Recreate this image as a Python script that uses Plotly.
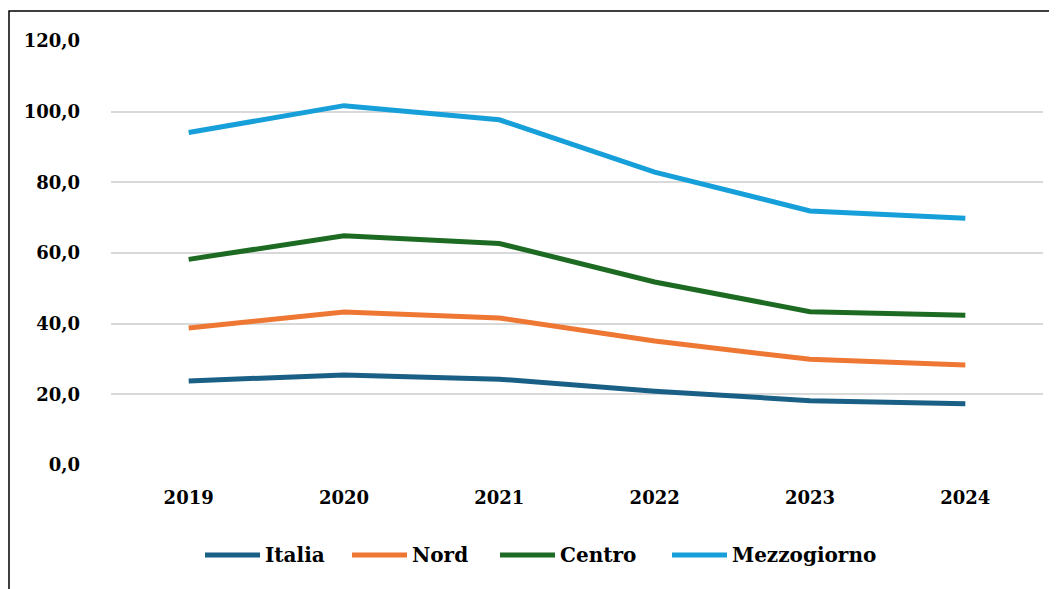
import plotly.graph_objects as go

years = ["2019", "2020", "2021", "2022", "2023", "2024"]
italia = [23.8, 25.5, 24.3, 20.9, 18.2, 17.3]
nord = [38.8, 43.3, 41.6, 35.1, 29.9, 28.3]
centro = [58.2, 64.9, 62.7, 51.8, 43.4, 42.4]
mezzogiorno = [94.1, 101.7, 97.7, 82.9, 71.9, 69.8]

series_names = ["Italia", "Nord", "Centro", "Mezzogiorno"]
series_values = [italia, nord, centro, mezzogiorno]
series_colors = ["#1a5f85", "#ed7733", "#1d6b23", "#169fd8"]

tick_vals = [0, 20, 40, 60, 80, 100, 120]
tick_text = ["0,0", "20,0", "40,0", "60,0", "80,0", "100,0", "120,0"]

font_family = "DejaVu Serif"

W, H = 1049, 581
L, T, B, R = 103, 33, 124, 14
pw = W - L - R
ph = H - T - B


def px(fx):
    return (fx - L) / pw


def py(fy):
    return (T + ph - fy) / ph


fig = go.Figure()
for name, vals, color in zip(series_names, series_values, series_colors):
    fig.add_trace(go.Scatter(
        x=years, y=vals, name=name, mode="lines",
        line=dict(color=color, width=5),
    ))

# legend drawn below the plot (sample line + label for each series)
legend_line_x = [197, 344, 492, 664]
legend_y = 547
shapes = [dict(
    type="rect", xref="paper", yref="paper",
    x0=px(1), x1=1.05, y0=-0.4, y1=py(3),
    line=dict(color="black", width=1.5), fillcolor="rgba(0,0,0,0)",
    layer="below",
)]
annotations = []
for name, color, lx in zip(series_names, series_colors, legend_line_x):
    shapes.append(dict(
        type="line", xref="paper", yref="paper",
        x0=px(lx), x1=px(lx + 55), y0=py(legend_y), y1=py(legend_y),
        line=dict(color=color, width=5),
    ))
    annotations.append(dict(
        xref="paper", yref="paper", x=px(lx + 58), y=py(legend_y),
        xanchor="left", yanchor="middle", showarrow=False, text=name,
        font=dict(family=font_family, size=20, color="black", weight="bold"),
    ))

fig.update_layout(
    width=W, height=H,
    margin=dict(l=L, r=R, t=T, b=B),
    paper_bgcolor="white", plot_bgcolor="white",
    font=dict(family=font_family, size=18, color="black"),
    showlegend=False,
    xaxis=dict(
        type="category", range=[-0.5, 5.5], showgrid=False, zeroline=False,
        showline=False, ticks="",
        tickfont=dict(family=font_family, size=18, color="black", weight="bold"),
        ticklabelstandoff=20,
    ),
    yaxis=dict(
        range=[0, 120], tickvals=tick_vals, ticktext=tick_text,
        showgrid=True, gridcolor="#d9d9d9", gridwidth=1.5,
        zeroline=False, showline=False, ticks="",
        tickfont=dict(family=font_family, size=18, color="black", weight="bold"),
        ticklabelstandoff=30,
    ),
    shapes=shapes,
    annotations=annotations,
)

fig.write_html("out.html")
